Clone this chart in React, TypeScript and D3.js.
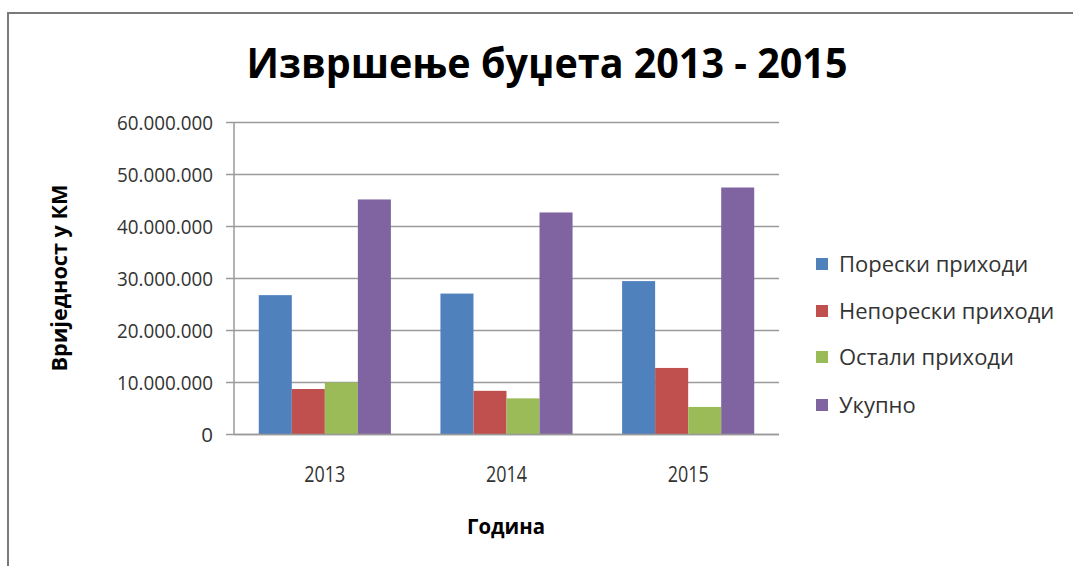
import React from "react";
import * as d3 from "d3";

const years = ["2013", "2014", "2015"];
const seriesNames = ["Порески приходи", "Непорески приходи", "Остали приходи", "Укупно"];
const seriesColors = ["#4F81BD", "#C0504D", "#9BBB59", "#8064A2"];
const poreski = [26800000, 27100000, 29500000];
const neporeski = [8750000, 8400000, 12800000];
const ostali = [10000000, 6950000, 5300000];
const ukupno = [45200000, 42700000, 47500000];
const yTicks = [0, 10000000, 20000000, 30000000, 40000000, 50000000, 60000000];

const seriesValues = [poreski, neporeski, ostali, ukupno];

const fmt = (v: number) => (v === 0 ? "0" : d3.format(",")(v).replace(/,/g, "."));

export default function App() {
  const W = 1073, H = 566;
  const left = 234, right = 779, top = 122.5, bottom = 434.5;
  const x = d3.scaleBand<string>().domain(years).range([left, right]).paddingInner(1.5 / 5.5).paddingOuter(0.75 / 5.5);
  const xi = d3.scaleBand<number>().domain(d3.range(seriesNames.length)).range([0, x.bandwidth()]);
  const y = d3.scaleLinear().domain([0, 60000000]).range([bottom, top]);
  const font = "'Open Sans', 'Noto Sans', sans-serif";
  const legendY = [264, 311, 357, 405];

  return (
    <svg width={W} height={H} style={{ position: "absolute", left: 0, top: 0, display: "block", background: "#fff" }}>
      <rect x={8} y={13} width={W + 20} height={H + 20} fill="#fff" stroke="#7a7a7a" strokeWidth={2} />
      <text x={547} y={78} textAnchor="middle" fontFamily={font} fontWeight="bold" fontSize={41} fill="#000"
        textLength={601} lengthAdjust="spacingAndGlyphs">Извршење буџета 2013 - 2015</text>
      {yTicks.map((t) => (
        <g key={t}>
          <line x1={left} x2={right} y1={y(t)} y2={y(t)} stroke="#9a9a9a" strokeWidth={1.5} />
          <line x1={226} x2={left} y1={y(t)} y2={y(t)} stroke="#9a9a9a" strokeWidth={1.5} />
          <text x={213} y={y(t)} dy="0.36em" textAnchor="end" fontFamily={font} fontSize={20.5} fill="#333"
            textLength={t === 0 ? undefined : 96} lengthAdjust="spacingAndGlyphs">{fmt(t)}</text>
        </g>
      ))}
      <line x1={left} x2={left} y1={top} y2={bottom} stroke="#9a9a9a" strokeWidth={1.5} />
      {years.map((yr, i) => (
        <g key={yr}>
          {seriesValues.map((vals, s) => (
            <rect key={s} x={(x(yr) as number) + (xi(s) as number)} y={y(vals[i])} width={xi.bandwidth()}
              height={bottom - y(vals[i])} fill={seriesColors[s]} />
          ))}
          <text x={(x(yr) as number) + x.bandwidth() / 2} y={474} dy="0.36em" textAnchor="middle" fontFamily={font} fontSize={21} fill="#333"
            textLength={41} lengthAdjust="spacingAndGlyphs">{yr}</text>
        </g>
      ))}
      <line x1={left} x2={right} y1={bottom} y2={bottom} stroke="#9a9a9a" strokeWidth={1.5} />
      <text transform="translate(67,278) rotate(-90)" textAnchor="middle" fontFamily={font} fontWeight="bold" fontSize={21} fill="#000"
        textLength={187} lengthAdjust="spacingAndGlyphs">Вриједност у КМ</text>
      <text x={506} y={534} textAnchor="middle" fontFamily={font} fontWeight="bold" fontSize={21} fill="#000"
        textLength={78} lengthAdjust="spacingAndGlyphs">Година</text>
      {seriesNames.map((n, s) => (
        <g key={n}>
          <rect x={816} y={legendY[s] - 6} width={12} height={12} fill={seriesColors[s]} />
          <text x={839} y={legendY[s]} dy="0.36em" fontFamily={font} fontSize={22} fill="#333">{n}</text>
        </g>
      ))}
    </svg>
  );
}
